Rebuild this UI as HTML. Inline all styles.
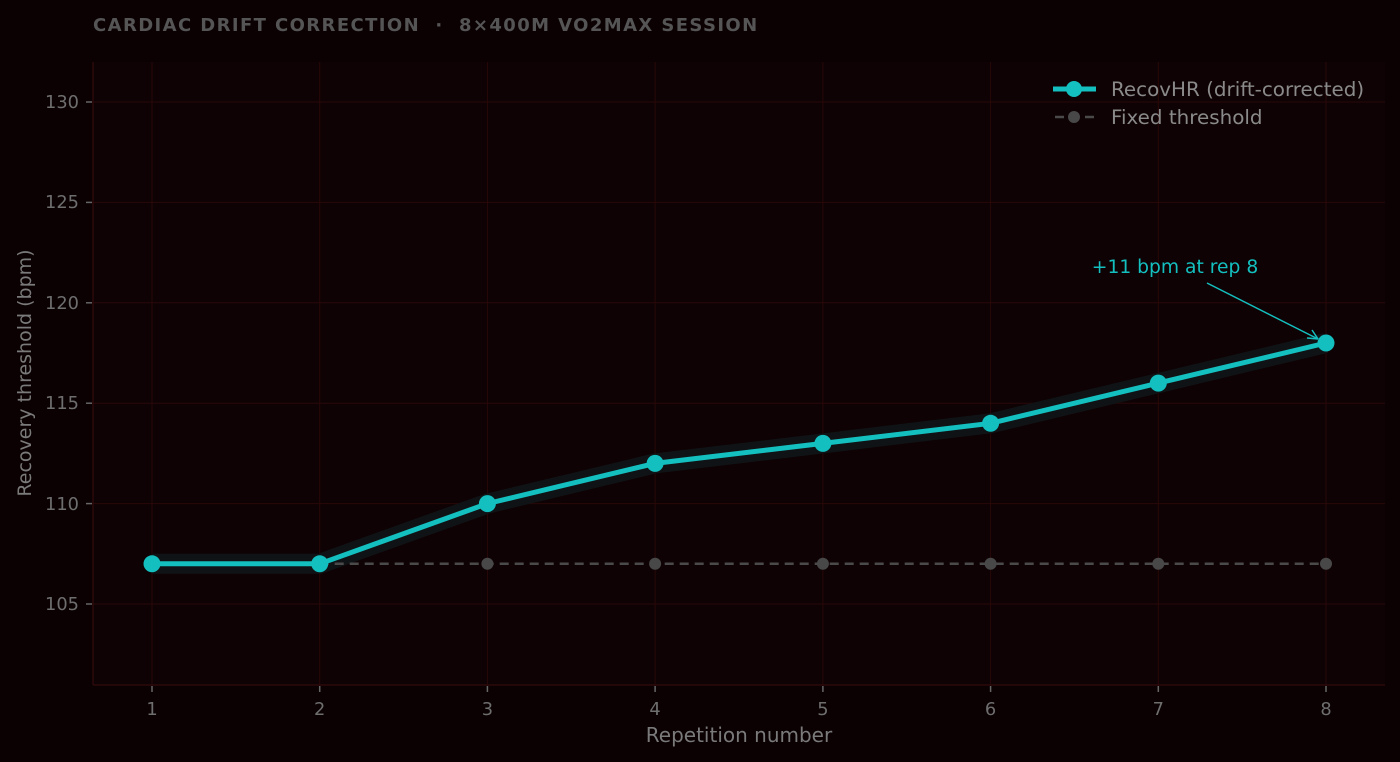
<!DOCTYPE html><html><head><meta charset="utf-8"><style>body{margin:0;background:#0b0103}svg{display:block}text{font-family:"DejaVu Sans","Liberation Sans",sans-serif}</style></head><body>
<svg width="1400" height="762" viewBox="0 0 1400 762">
<rect width="1400" height="762" fill="#0b0103"/>
<rect x="93" y="62" width="1292" height="623" fill="#0e0204"/>
<g stroke="#2a0808" stroke-width="1">
<line x1="93" x2="1385" y1="102" y2="102"/><line x1="93" x2="1385" y1="202.4" y2="202.4"/><line x1="93" x2="1385" y1="302.8" y2="302.8"/><line x1="93" x2="1385" y1="403.2" y2="403.2"/><line x1="93" x2="1385" y1="503.6" y2="503.6"/><line x1="93" x2="1385" y1="604" y2="604"/>
<line y1="62" y2="685" x1="152" x2="152"/><line y1="62" y2="685" x1="319.7" x2="319.7"/><line y1="62" y2="685" x1="487.4" x2="487.4"/><line y1="62" y2="685" x1="655.1" x2="655.1"/><line y1="62" y2="685" x1="822.9" x2="822.9"/><line y1="62" y2="685" x1="990.6" x2="990.6"/><line y1="62" y2="685" x1="1158.3" x2="1158.3"/><line y1="62" y2="685" x1="1326" x2="1326" />
</g>
<g stroke="#3a0c0c"><line x1="93" y1="62" x2="93" y2="685"/><line x1="93" y1="685" x2="1385" y2="685"/></g>
<g stroke="#666" stroke-width="1.5">
<line x1="86" x2="92" y1="102" y2="102"/><line x1="86" x2="92" y1="202.4" y2="202.4"/><line x1="86" x2="92" y1="302.8" y2="302.8"/><line x1="86" x2="92" y1="403.2" y2="403.2"/><line x1="86" x2="92" y1="503.6" y2="503.6"/><line x1="86" x2="92" y1="604" y2="604"/>
<line y1="686" y2="692" x1="152" x2="152"/><line y1="686" y2="692" x1="319.7" x2="319.7"/><line y1="686" y2="692" x1="487.4" x2="487.4"/><line y1="686" y2="692" x1="655.1" x2="655.1"/><line y1="686" y2="692" x1="822.9" x2="822.9"/><line y1="686" y2="692" x1="990.6" x2="990.6"/><line y1="686" y2="692" x1="1158.3" x2="1158.3"/><line y1="686" y2="692" x1="1326" x2="1326"/>
</g>
<g fill="#6e6e6e" font-size="17.8" text-anchor="end">
<text x="79" y="108">130</text><text x="79" y="208">125</text><text x="79" y="309">120</text><text x="79" y="409">115</text><text x="79" y="510">110</text><text x="79" y="610">105</text></g>
<g fill="#6e6e6e" font-size="17.8" text-anchor="middle">
<text x="152" y="715">1</text><text x="319.7" y="715">2</text><text x="487.4" y="715">3</text><text x="655.1" y="715">4</text><text x="822.9" y="715">5</text><text x="990.6" y="715">6</text><text x="1158.3" y="715">7</text><text x="1326" y="715">8</text>
<text x="739" y="742" font-size="20" fill="#7a7a7a">Repetition number</text>
<text transform="translate(31,373) rotate(-90)" font-size="19" fill="#7a7a7a">Recovery threshold (bpm)</text></g>
<text x="93" y="31" font-size="18" font-weight="bold" fill="#555" letter-spacing="1.4" xml:space="preserve">CARDIAC DRIFT CORRECTION &#160;·&#160; 8×400M VO2MAX SESSION</text>
<polyline points="152,563.8 319.7,563.8 487.4,503.6 655.1,463.4 822.9,443.4 990.6,423.3 1158.3,383.1 1326,343" fill="none" stroke="#101315" stroke-width="20"/>
<line x1="319.7" x2="1326" y1="563.8" y2="563.8" stroke="#4a4a4a" stroke-width="2.5" stroke-dasharray="9,6"/>
<g fill="#484848"><circle cx="487.4" cy="563.8" r="6"/><circle cx="655.1" cy="563.8" r="6"/><circle cx="822.9" cy="563.8" r="6"/><circle cx="990.6" cy="563.8" r="6"/><circle cx="1158.3" cy="563.8" r="6"/><circle cx="1326" cy="563.8" r="6"/></g>
<polyline points="152,563.8 319.7,563.8 487.4,503.6 655.1,463.4 822.9,443.4 990.6,423.3 1158.3,383.1 1326,343" fill="none" stroke="#14bfbf" stroke-width="5"/>
<g fill="#14bfbf"><circle cx="152" cy="563.8" r="8.5"/><circle cx="319.7" cy="563.8" r="8.5"/><circle cx="487.4" cy="503.6" r="8.5"/><circle cx="655.1" cy="463.4" r="8.5"/><circle cx="822.9" cy="443.4" r="8.5"/><circle cx="990.6" cy="423.3" r="8.5"/><circle cx="1158.3" cy="383.1" r="8.5"/><circle cx="1326" cy="343" r="8.5"/></g>
<text x="1175" y="273" font-size="18.7" fill="#14bfbf" text-anchor="middle">+11 bpm at rep 8</text>
<line x1="1207" y1="283" x2="1318" y2="339" stroke="#14bfbf" stroke-width="1.5"/>
<path d="M1318,339 l-11,-1 M1318,339 l-6,-9" stroke="#14bfbf" stroke-width="1.5" fill="none"/>
<line x1="1053" x2="1096" y1="89" y2="89" stroke="#14bfbf" stroke-width="5"/><circle cx="1074" cy="89" r="8" fill="#14bfbf"/>
<line x1="1055" x2="1096" y1="117" y2="117" stroke="#4a4a4a" stroke-width="2.5" stroke-dasharray="9,6"/><circle cx="1074" cy="117" r="6" fill="#484848"/>
<text x="1111" y="96" font-size="19.9" fill="#8a8a8a">RecovHR (drift-corrected)</text>
<text x="1111" y="124" font-size="19.9" fill="#8a8a8a">Fixed threshold</text>
</svg></body></html>
